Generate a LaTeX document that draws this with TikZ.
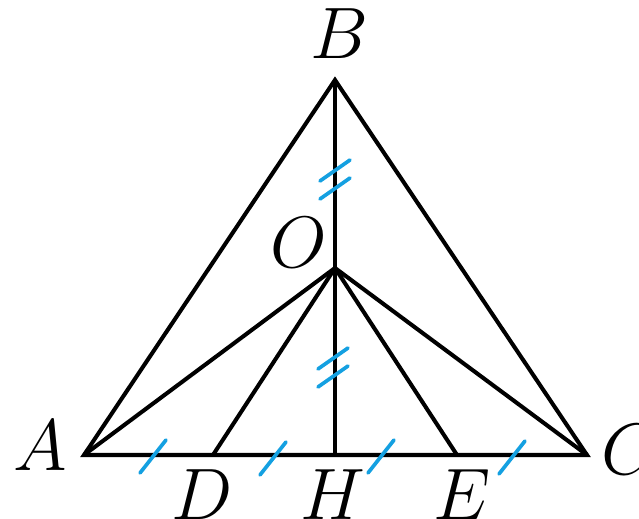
\documentclass[tikz,border=0pt]{standalone}
\usetikzlibrary{calc}
\definecolor{tickblue}{RGB}{20,160,225}

\begin{document}
\begin{tikzpicture}[x=0.1mm, y=-0.1mm,
  seg/.style={line width=1.15pt, line join=miter},
  hatch/.style={draw=tickblue, line width=1.05pt, line cap=round},
  lbl/.style={font=\fontsize{20}{24}\selectfont, inner sep=0pt},
  onetick/.pic={\draw[hatch] (-13,16) -- (13,-17);},
  twotick/.pic={\draw[hatch] (-15,1) -- (15,-20);
                \draw[hatch] (-15,19) -- (15,-2);}
]
\useasboundingbox (0,0) rectangle (639,519);

% points
\coordinate (A) at (84,455);
\coordinate (C) at (587,455);
\coordinate (B) at (335,80);
\coordinate (O) at (335,268);
\coordinate (H) at (335,455);
\coordinate (D) at (213,455);
\coordinate (E) at (457,455);

% triangle and segments
\draw[seg] (A) -- (B) -- (C) -- cycle;
\draw[seg] (B) -- (H);
\draw[seg] (O) -- (A);
\draw[seg] (O) -- (D);
\draw[seg] (O) -- (E);
\draw[seg] (O) -- (C);

% equal marks
\pic at (153,457) {onetick};
\pic at (273,459) {onetick};
\pic at (381,457) {onetick};
\pic at (512,458) {onetick};
\pic at (335,180) {twotick};
\pic at (333,368) {twotick};

% labels
\node[lbl] (lB) at (339,34) {$B$};
\node[lbl] (lO) at (299,243) {$O$};
\node[lbl] (lA) at (40,446) {$A$};
\node[lbl] (lC) at (630,450) {$C$};
\node[lbl] (lD) at (202,495) {$D$};
\node[lbl] (lH) at (333,495) {$H$};
\node[lbl] (lE) at (462,495) {$E$};
\end{tikzpicture}
\end{document}
